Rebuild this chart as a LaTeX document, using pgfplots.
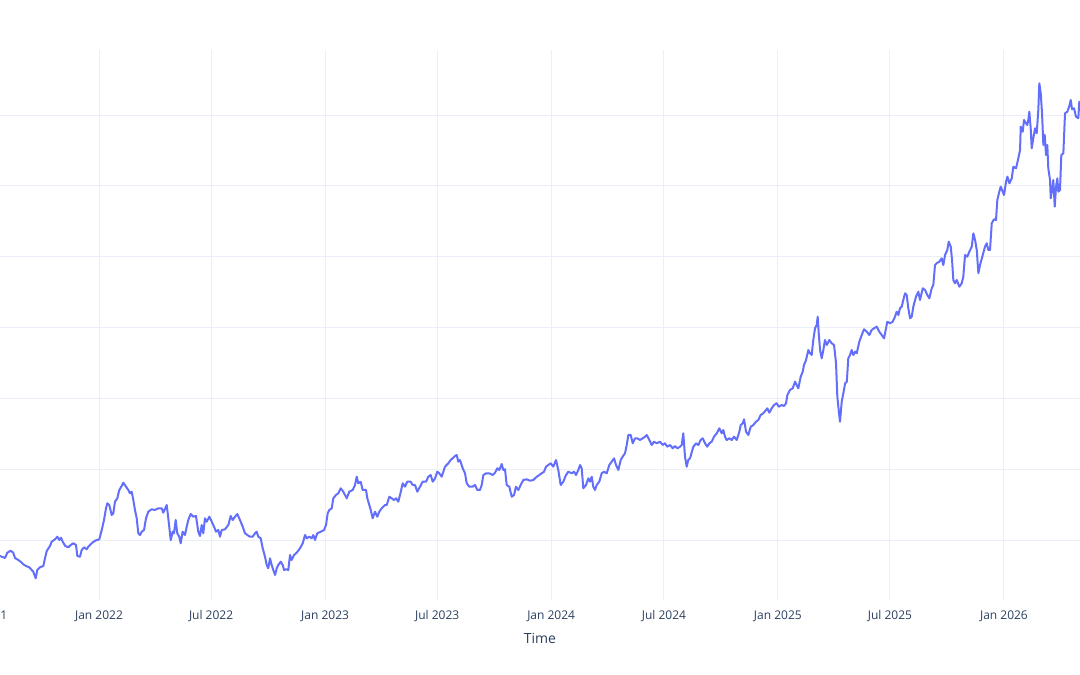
\documentclass[border=0pt]{standalone}
\usepackage{pgfplots}
\pgfplotsset{compat=1.18}
\usepackage{fontspec}
\setmainfont{Open Sans}
\definecolor{linec}{HTML}{636EFA}
\definecolor{gridc}{HTML}{EBF0F8}
\definecolor{txt}{HTML}{2A3F5F}
% x: days since 1 Jan 2022, y: value
\pgfplotstableread{
x y
-184 35.76
-173 36.33
-165 35.48
-160 35.48
-154.5 35.12
-151.8 34.92
-148.0 36.41
-142.6 36.98
-138.4 36.41
-135.6 34.92
-130.3 34.35
-126.4 33.87
-122.2 33.14
-117.9 32.66
-112.5 32.29
-108.7 31.53
-106.1 31.05
-102.2 29.19
-99.6 31.53
-95.3 32.29
-89.9 32.66
-87.2 34.83
-84.4 36.89
-79.1 38.31
-76.4 39.52
-71.0 40.20
-67.3 40.93
-64.1 40.00
-61.4 40.65
-58.6 39.52
-54.4 38.31
-49.6 37.94
-45.7 38.59
-41.5 39.07
-37.1 38.59
-35.0 35.48
-30.7 35.28
-27.9 37.18
-24.2 37.94
-19.9 37.37
-17.3 38.11
-11.8 39.07
-6.5 39.80
0.5 40.20
4.4 42.82
8.1 45.65
11.3 48.95
13.4 50.36
16.6 49.88
20.5 47.06
23.1 47.54
25.8 50.81
29.5 51.77
32.8 54.12
36.6 55.25
39.2 56.18
43.6 55.05
47.3 54.12
50.0 53.19
52.8 53.64
55.4 51.29
58.1 48.47
60.9 46.13
63.5 41.89
66.2 41.41
68.9 42.34
72.7 42.82
75.9 46.13
79.6 47.99
85.1 48.67
90.4 48.47
95.7 48.95
101.2 48.95
103.8 47.71
109.3 49.88
111.9 46.13
115.8 40.00
119.0 42.34
121.1 41.89
123.8 45.65
126.4 41.89
129.6 40.93
131.9 39.07
135.1 42.34
138.8 41.41
141.6 43.76
144.2 45.65
148.0 47.34
152.2 46.58
156.6 46.78
160.3 42.34
163.1 41.13
165.8 44.24
168.4 41.89
171.1 46.13
173.9 45.17
178.1 46.58
182.0 45.17
185.7 43.76
188.9 42.34
192.6 42.82
195.4 40.93
198.1 42.82
203.4 43.02
208.8 44.24
212.6 46.78
215.9 45.65
219.6 46.58
223.3 47.34
227.6 45.65
232.0 43.76
235.7 41.89
239.4 41.41
243.8 40.93
248.1 40.93
251.9 41.89
254.6 42.34
257.2 40.93
261.1 40.48
264.3 37.66
268.0 35.28
270.8 32.94
273.3 32.01
276.1 34.83
278.8 32.94
281.4 31.53
284.2 30.12
286.9 32.01
289.5 32.94
293.4 33.87
296.6 32.94
298.7 31.53
301.9 31.73
305.6 31.53
308.4 35.76
311.1 34.35
314.8 35.76
319.2 36.41
324.5 37.66
328.9 39.07
332.6 41.41
335.3 40.48
339.5 40.93
343.4 40.48
346.0 41.41
348.7 40.00
352.4 41.89
357.9 42.34
363.3 42.82
366.5 44.24
369.2 47.54
371.8 48.47
375.7 48.95
378.3 51.77
382.6 52.71
386.4 53.19
390.2 54.60
394.4 53.64
399.9 51.77
404.1 53.64
409.6 54.12
413.3 55.53
416.1 57.87
418.6 56.01
422.5 56.46
425.7 54.12
431.1 54.12
433.2 51.77
436.4 49.88
438.7 48.47
441.9 46.13
445.6 47.99
449.3 46.58
452.5 47.99
456.4 48.95
461.7 49.88
464.5 49.88
468.7 52.23
472.6 51.77
476.3 51.29
479.5 51.77
483.2 50.81
486.0 52.71
490.3 56.01
494.0 55.05
497.7 56.46
503.2 56.46
506.5 55.53
510.2 55.53
513.9 53.64
518.3 55.05
522.6 56.46
527.9 56.46
531.7 57.87
535.5 58.35
538.8 56.46
542.5 57.42
546.2 59.29
549.4 58.83
553.3 57.87
558.6 60.70
563.9 61.66
567.8 62.59
571.0 63.07
574.8 63.72
577.5 64.00
580.1 62.11
582.8 62.59
587.2 60.25
590.9 58.83
593.7 56.01
597.8 55.05
603.3 55.05
607.1 55.53
610.8 54.12
615.1 54.12
617.9 55.53
620.5 58.35
624.8 58.83
630.1 58.83
635.6 58.35
639.3 59.00
643.1 60.25
646.3 59.77
650.2 61.46
652.7 59.77
655.5 59.96
658.2 55.53
662.4 55.05
666.3 52.23
670.0 52.71
673.2 55.05
677.0 54.12
680.8 55.53
685.0 56.94
690.5 57.14
695.9 56.74
701.2 56.94
706.7 57.87
710.9 58.35
714.7 58.83
718.5 59.29
721.7 60.70
725.4 61.18
729.3 61.66
733.5 60.70
737.8 62.59
741.5 59.77
745.4 55.53
749.6 56.46
754.0 58.35
757.7 59.29
763.2 58.83
766.9 59.29
770.1 58.35
773.8 59.77
776.6 61.18
779.3 60.25
781.9 54.60
786.3 55.53
790.0 57.42
792.7 56.46
795.5 57.87
798.0 55.05
800.8 54.12
803.5 55.53
807.7 56.46
811.6 58.83
815.3 59.29
819.7 58.83
823.9 61.18
827.7 62.11
831.5 63.07
834.7 61.18
838.4 59.77
842.3 62.59
845.5 63.52
849.2 64.48
852.0 66.83
854.6 69.65
858.4 69.65
861.7 67.31
865.4 68.72
869.1 68.72
873.4 68.24
877.8 68.72
881.5 69.17
884.3 69.65
888.5 68.24
892.3 66.83
896.0 67.76
900.4 67.31
905.7 67.76
910.1 66.83
913.8 67.31
917.5 66.34
921.9 66.83
926.2 65.89
929.9 66.54
933.7 65.89
938.0 66.34
940.8 66.83
943.3 70.13
946.1 63.52
948.8 60.70
951.4 62.59
954.2 63.07
959.5 66.34
963.9 67.31
967.6 66.83
971.4 68.24
974.7 68.72
978.4 67.31
982.1 66.34
985.3 67.31
989.2 67.76
992.9 69.17
997.3 70.13
1001.5 71.54
1005.3 70.13
1007.9 71.06
1010.7 69.17
1013.4 68.24
1017.6 68.72
1021.5 68.24
1025.2 69.17
1029.6 68.24
1033.8 70.58
1036.0 72.47
1039.3 72.95
1041.4 74.08
1044.6 70.58
1048.3 69.65
1052.2 71.99
1056.4 72.47
1060.7 73.40
1064.4 73.88
1068.3 75.30
1072.5 75.78
1076.9 76.71
1079.0 77.19
1082.2 75.95
1086.1 77.19
1089.8 78.12
1094.2 78.60
1097.4 77.64
1102.2 78.12
1105.9 77.84
1109.2 78.60
1111.3 80.94
1115.6 82.36
1120.0 82.84
1123.7 84.70
1126.4 83.77
1129.0 82.84
1132.9 86.11
1136.1 87.52
1138.2 89.41
1141.5 90.83
1145.2 93.65
1147.9 92.72
1150.6 92.24
1153.2 96.47
1156.0 99.78
1158.7 100.71
1160.3 103.05
1162.0 98.37
1164.1 93.65
1166.8 91.31
1169.4 93.65
1172.1 96.47
1174.9 95.06
1179.1 96.47
1182.9 95.54
1186.7 95.06
1189.9 89.89
1192.0 80.46
1194.2 76.71
1196.3 73.40
1199.1 79.05
1201.7 81.42
1204.6 84.25
1207.3 84.70
1209.7 91.31
1212.5 92.24
1215.2 93.65
1217.8 92.24
1220.6 93.17
1223.3 92.72
1227.5 95.99
1231.4 97.89
1235.1 99.50
1239.5 98.82
1243.6 97.89
1247.5 99.30
1251.2 99.78
1255.6 100.23
1259.8 98.82
1263.7 97.89
1267.4 96.95
1270.6 99.78
1272.7 101.64
1277.1 101.19
1281.4 101.64
1285.1 103.05
1287.9 104.46
1290.5 103.53
1293.2 105.43
1296.0 105.88
1298.5 107.77
1301.3 109.66
1304.0 109.18
1306.6 105.43
1309.4 102.60
1312.1 103.05
1314.7 105.88
1319.0 108.70
1322.8 110.11
1325.5 107.77
1329.9 111.07
1333.6 110.59
1337.3 109.18
1340.5 108.25
1344.4 111.07
1347.0 112.00
1349.7 117.65
1353.5 118.30
1356.7 118.58
1360.5 119.54
1363.1 117.65
1365.9 120.48
1369.6 121.89
1371.8 124.23
1375.1 122.82
1377.2 119.06
1379.3 113.42
1382.0 112.48
1384.8 113.42
1389.0 111.52
1392.8 112.48
1395.4 114.35
1398.2 120.48
1401.9 120.00
1405.1 121.41
1409.0 122.82
1411.6 126.60
1414.4 124.71
1417.1 121.89
1419.7 115.31
1422.4 117.65
1426.8 120.48
1430.4 122.82
1433.2 123.78
1435.8 121.89
1438.5 121.89
1441.3 129.43
1445.0 130.56
1448.2 130.36
1450.3 136.01
1453.5 138.35
1455.8 139.76
1459.0 138.35
1461.1 137.42
1464.4 141.17
1466.6 142.59
1469.8 140.72
1473.6 142.13
1476.2 145.41
1480.5 144.96
1484.2 147.78
1487.0 150.12
1488.1 156.70
1491.3 155.29
1493.4 158.60
1496.6 157.66
1498.7 157.18
1500.3 158.60
1502.0 160.94
1504.2 156.25
1505.8 150.60
1508.4 153.43
1511.2 156.25
1513.9 154.84
1516.5 161.42
1518.1 168.96
1520.4 166.13
1522.5 160.49
1524.6 151.54
1526.8 154.36
1528.9 148.71
1531.0 151.54
1532.6 144.96
1535.4 141.65
1536.5 136.49
1538.6 138.83
1540.7 141.65
1543.0 134.11
1545.1 139.76
1547.2 142.13
1548.8 138.35
1551.5 138.83
1553.6 148.71
1556.9 149.19
1559.6 160.49
1563.3 160.94
1566.6 162.55
1568.8 164.24
1570.9 161.62
1574.1 161.90
1577.4 159.53
1581.1 159.08
1582.7 163.76
1588.7 163.40
}\series
\begin{document}
\begin{tikzpicture}
\begin{axis}[
  at={(-15pt,625pt)}, anchor=north west,
  scale only axis, width=1110pt, height=550pt,
  xmin=-184.05, xmax=1608, ymin=23.06, ymax=178.36,
  xtick={-184,0,181,365,546,730,912,1096,1277,1461},
  xticklabels={Jul 2021,Jan 2022,Jul 2022,Jan 2023,Jul 2023,Jan 2024,Jul 2024,Jan 2025,Jul 2025,Jan 2026},
  ytick={40,60,80,100,120,140,160},
  yticklabels={},
  grid=major, major grid style={draw=gridc, line width=1pt},
  axis line style={draw=none}, tick style={draw=none},
  xticklabel style={font=\fontsize{12}{14}\selectfont, text=txt, anchor=center, yshift=-16pt},
  xlabel={Time},
  xlabel style={font=\fontsize{14}{16}\selectfont, text=txt, at={(axis description cs:0.5,0)}, anchor=center, yshift=-38pt},
]
\addplot[linec, line width=2pt, line join=round, no markers] table[x=x, y=y] {\series};
\end{axis}
\pgfresetboundingbox
\useasboundingbox (0,0) rectangle (1080pt,675pt);
\end{tikzpicture}
\end{document}
